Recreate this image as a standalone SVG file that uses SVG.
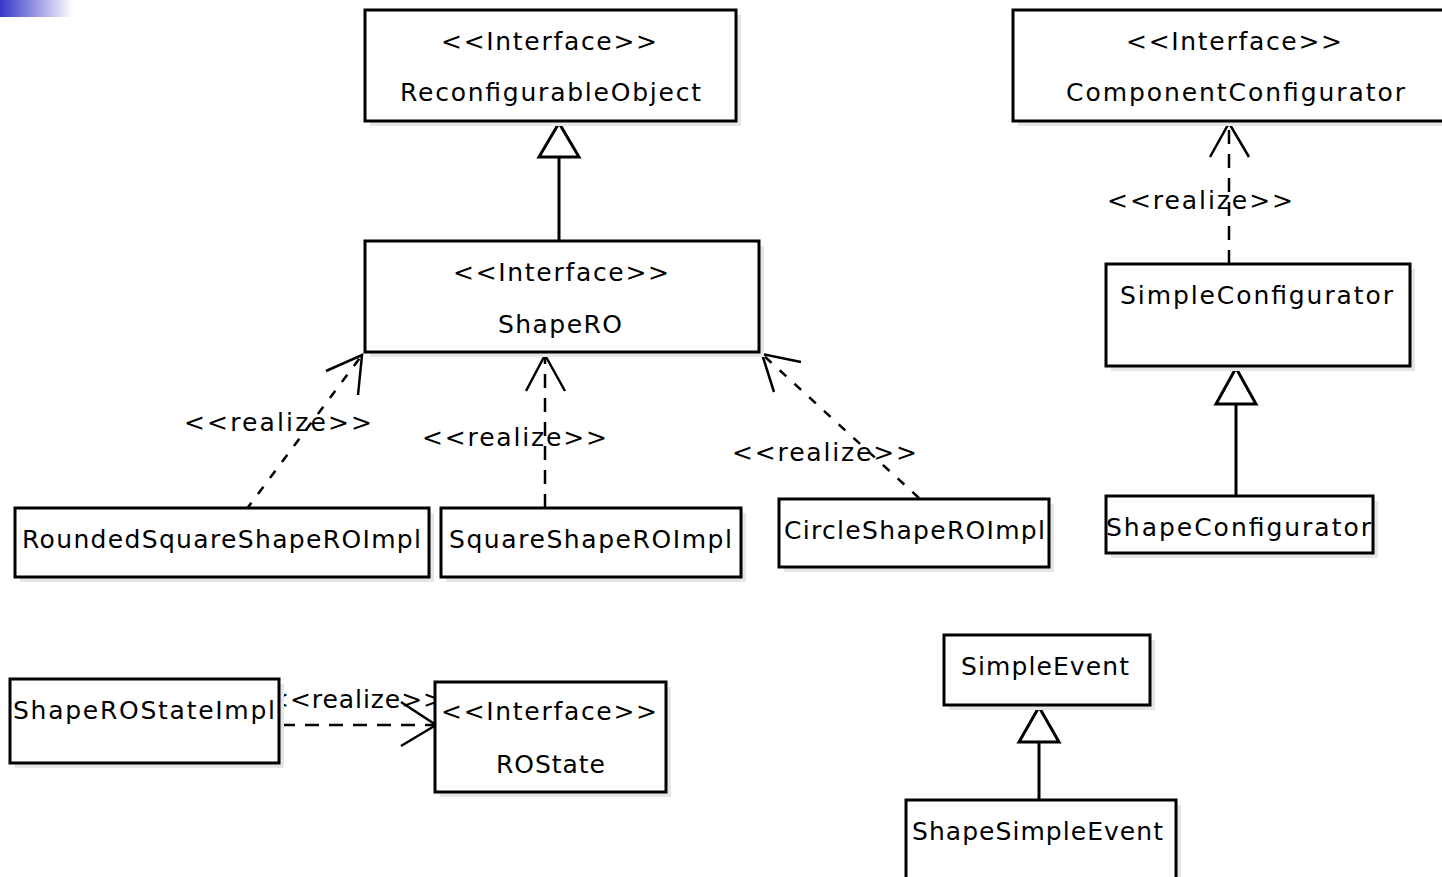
<svg xmlns="http://www.w3.org/2000/svg" width="1442" height="877" viewBox="0 0 1442 877">
<defs>
<linearGradient id="corner" x1="0" y1="0" x2="1" y2="0">
<stop offset="0" stop-color="#3636c8"/>
<stop offset="1" stop-color="#ffffff"/>
</linearGradient>
<style>
.box{fill:#fff;stroke:#000;stroke-width:3}
.shadow{fill:#e6e6e6}
.t{font-family:"DejaVu Sans","Liberation Sans",sans-serif;font-size:25px;fill:#000}
.c{text-anchor:middle}
.line{fill:none;stroke:#000;stroke-width:3}
.dash{fill:none;stroke:#000;stroke-width:2.5;stroke-dasharray:14 10}
.ddash{fill:none;stroke:#000;stroke-width:2.5;stroke-dasharray:9 11}
.head{fill:none;stroke:#000;stroke-width:2.5}
.tri{fill:#fff;stroke:#000;stroke-width:3;stroke-linejoin:miter}
</style>
</defs>
<rect width="1442" height="877" fill="#fff"/>
<rect x="0" y="0" width="73" height="17" fill="url(#corner)"/>

<g id="connectors">
<!-- ShapeRO -> ReconfigurableObject generalization -->
<line class="line" x1="559" y1="157" x2="559" y2="241"/>
<polygon class="tri" points="559,123 539,157 579,157"/>
<!-- SimpleConfigurator realize ComponentConfigurator -->
<line class="dash" x1="1229" y1="264" x2="1229" y2="124"/>
<polyline class="head" points="1210,157 1229,123 1249,157"/>
<!-- ShapeConfigurator -> SimpleConfigurator -->
<line class="line" x1="1236" y1="404" x2="1236" y2="497"/>
<polygon class="tri" points="1236,368 1216,404 1256,404"/>
<!-- ShapeSimpleEvent -> SimpleEvent -->
<line class="line" x1="1039" y1="742" x2="1039" y2="800"/>
<polygon class="tri" points="1039,707 1019,742 1059,742"/>
<!-- RoundedSquare realize ShapeRO -->
<line class="ddash" x1="246" y1="510" x2="362" y2="355"/>
<polyline class="head" points="326,371 362,355 358,395"/>
<!-- Square realize ShapeRO -->
<line class="dash" x1="545" y1="508" x2="545" y2="356"/>
<polyline class="head" points="526,391 545,355 565,391"/>
<!-- Circle realize ShapeRO -->
<line class="ddash" x1="919" y1="498" x2="762" y2="354"/>
<polyline class="head" points="774,392 762,354 801,362"/>
<!-- ShapeROStateImpl realize ROState -->
<line class="dash" x1="281" y1="725" x2="435" y2="725"/>
<polyline class="head" points="401,702 436,725 401,746"/>
<text class="t" x="184" y="431" textLength="188" lengthAdjust="spacing">&lt;&lt;realize&gt;&gt;</text>
<text class="t" x="422" y="446" textLength="185" lengthAdjust="spacing">&lt;&lt;realize&gt;&gt;</text>
<text class="t" x="732" y="461" textLength="185" lengthAdjust="spacing">&lt;&lt;realize&gt;&gt;</text>
<text class="t" x="1107" y="209" textLength="186" lengthAdjust="spacing">&lt;&lt;realize&gt;&gt;</text>
<text class="t" x="268" y="708" textLength="176" lengthAdjust="spacing">&lt;&lt;realize&gt;&gt;</text>
</g>

<g id="ReconfigurableObject">
<rect class="shadow" x="370" y="15" width="371" height="111"/>
<rect class="box" x="365" y="10" width="371" height="111"/>
<text class="t" x="441" y="50" textLength="216" lengthAdjust="spacing">&lt;&lt;Interface&gt;&gt;</text>
<text class="t" x="400" y="101" textLength="301" lengthAdjust="spacing">ReconfigurableObject</text>
</g>

<g id="ShapeRO">
<rect class="shadow" x="370" y="246" width="394" height="111"/>
<rect class="box" x="365" y="241" width="394" height="111"/>
<text class="t" x="453" y="281" textLength="216" lengthAdjust="spacing">&lt;&lt;Interface&gt;&gt;</text>
<text class="t" x="498" y="333" textLength="124" lengthAdjust="spacing">ShapeRO</text>
</g>

<g id="ComponentConfigurator">
<rect class="shadow" x="1018" y="15" width="440" height="111"/>
<rect class="box" x="1013" y="10" width="440" height="111"/>
<text class="t" x="1126" y="50" textLength="216" lengthAdjust="spacing">&lt;&lt;Interface&gt;&gt;</text>
<text class="t" x="1066" y="101" textLength="339" lengthAdjust="spacing">ComponentConfigurator</text>
</g>

<g id="SimpleConfigurator">
<rect class="shadow" x="1111" y="269" width="304" height="102"/>
<rect class="box" x="1106" y="264" width="304" height="102"/>
<text class="t" x="1120" y="304" textLength="273" lengthAdjust="spacing">SimpleConfigurator</text>
</g>

<g id="ShapeConfigurator">
<rect class="shadow" x="1111" y="501" width="267" height="57"/>
<rect class="box" x="1106" y="496" width="267" height="57"/>
<text class="t" x="1106" y="536" textLength="265" lengthAdjust="spacing">ShapeConfigurator</text>
</g>

<g id="RoundedSquareShapeROImpl">
<rect class="shadow" x="20" y="513" width="414" height="69"/>
<rect class="box" x="15" y="508" width="414" height="69"/>
<text class="t" x="22" y="548" textLength="399" lengthAdjust="spacing">RoundedSquareShapeROImpl</text>
</g>

<g id="SquareShapeROImpl">
<rect class="shadow" x="446" y="513" width="300" height="69"/>
<rect class="box" x="441" y="508" width="300" height="69"/>
<text class="t" x="449" y="548" textLength="283" lengthAdjust="spacing">SquareShapeROImpl</text>
</g>

<g id="CircleShapeROImpl">
<rect class="shadow" x="784" y="504" width="270" height="68"/>
<rect class="box" x="779" y="499" width="270" height="68"/>
<text class="t" x="784" y="539" textLength="261" lengthAdjust="spacing">CircleShapeROImpl</text>
</g>

<g id="ShapeROStateImpl">
<rect class="shadow" x="15" y="684" width="269" height="84"/>
<rect class="box" x="10" y="679" width="269" height="84"/>
<text class="t" x="13" y="719" textLength="262" lengthAdjust="spacing">ShapeROStateImpl</text>
</g>

<g id="ROState">
<rect class="shadow" x="440" y="687" width="231" height="110"/>
<rect class="box" x="435" y="682" width="231" height="110"/>
<text class="t" x="441" y="720" textLength="216" lengthAdjust="spacing">&lt;&lt;Interface&gt;&gt;</text>
<text class="t" x="496" y="773" textLength="109" lengthAdjust="spacing">ROState</text>
</g>

<g id="SimpleEvent">
<rect class="shadow" x="949" y="640" width="206" height="70"/>
<rect class="box" x="944" y="635" width="206" height="70"/>
<text class="t" x="961" y="675" textLength="168" lengthAdjust="spacing">SimpleEvent</text>
</g>

<g id="ShapeSimpleEvent">
<rect class="shadow" x="911" y="805" width="270" height="100"/>
<rect class="box" x="906" y="800" width="270" height="100"/>
<text class="t" x="912" y="840" textLength="251" lengthAdjust="spacing">ShapeSimpleEvent</text>
</g>
</svg>
